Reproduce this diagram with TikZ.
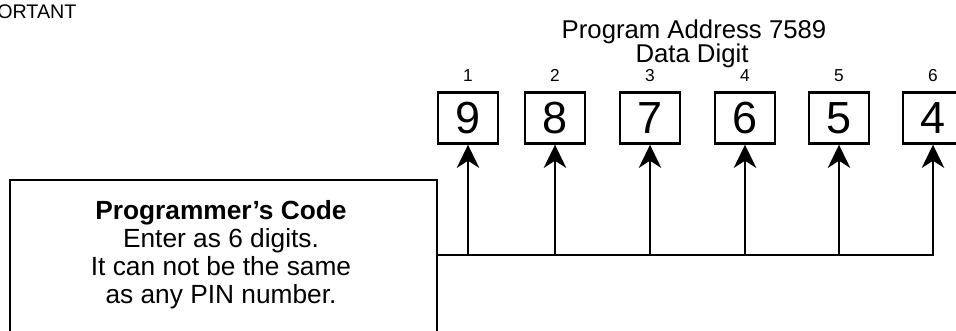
\documentclass[tikz,border=0pt]{standalone}
\usepackage{fontspec}
\setmainfont{Liberation Sans}
\usetikzlibrary{arrows.meta,positioning,calc}

\begin{document}
\begin{tikzpicture}[
  x=0.25mm, y=-0.25mm,
  dg/.style={draw, line width=0.6mm, minimum width=15mm, minimum height=12.75mm,
             inner sep=0pt, font=\fontsize{32}{34}\selectfont},
  idx/.style={font=\fontsize{12.3}{13}\selectfont, inner sep=0pt},
  ttl/.style={font=\fontsize{18.3}{20}\selectfont, inner sep=0pt},
  codebox/.style={draw, line width=0.6mm, minimum width=106.75mm, minimum height=45mm,
                  anchor=north west, inner sep=0pt},
  txt/.style={font=\fontsize{18.7}{20}\selectfont, align=center, inner sep=0pt},
  ar/.style={-{Stealth[length=5.8mm, width=5.6mm, inset=1.8mm]}, line width=0.6mm}
]
\useasboundingbox (0,0) rectangle (956,331);
\clip (0,0) rectangle (956,331);
% cut-off heading at the top left
\node[font=\fontsize{14}{15}\selectfont, inner sep=0pt, anchor=west] (imp) at (-3,12) {ORTANT};
% title
\node[ttl] (addr) at (694,32) {Program Address 7589};
\node[ttl] (dd)   at (692,56) {Data Digit};
% data digits
\node[dg] (d1) at (468,118) {9};
\node[dg] (d2) at (555,118) {8};
\node[dg] (d3) at (650,118) {7};
\node[dg] (d4) at (745,118) {6};
\node[dg] (d5) at (839,118) {5};
\node[dg] (d6) at (933,118) {4};
\node[idx, above=2.3mm of d1] (i1) {1};
\node[idx, above=2.3mm of d2] (i2) {2};
\node[idx, above=2.3mm of d3] (i3) {3};
\node[idx, above=2.3mm of d4] (i4) {4};
\node[idx, above=2.3mm of d5] (i5) {5};
\node[idx, above=2.3mm of d6] (i6) {6};
% programmer's code box
\node[codebox] (code) at (9,179) {};
\node[txt] (codetxt) at (221,255) {\textbf{Programmer’s Code}\\Enter as 6 digits.\\It can not be the same\\as any PIN number.};
\coordinate (bus) at (436,255);
\draw[ar] (code.east |- bus) -| (d6.south);
\draw[ar] (d1.south |- bus) -- (d1.south);
\draw[ar] (d2.south |- bus) -- (d2.south);
\draw[ar] (d3.south |- bus) -- (d3.south);
\draw[ar] (d4.south |- bus) -- (d4.south);
\draw[ar] (d5.south |- bus) -- (d5.south);
\end{tikzpicture}
\end{document}
